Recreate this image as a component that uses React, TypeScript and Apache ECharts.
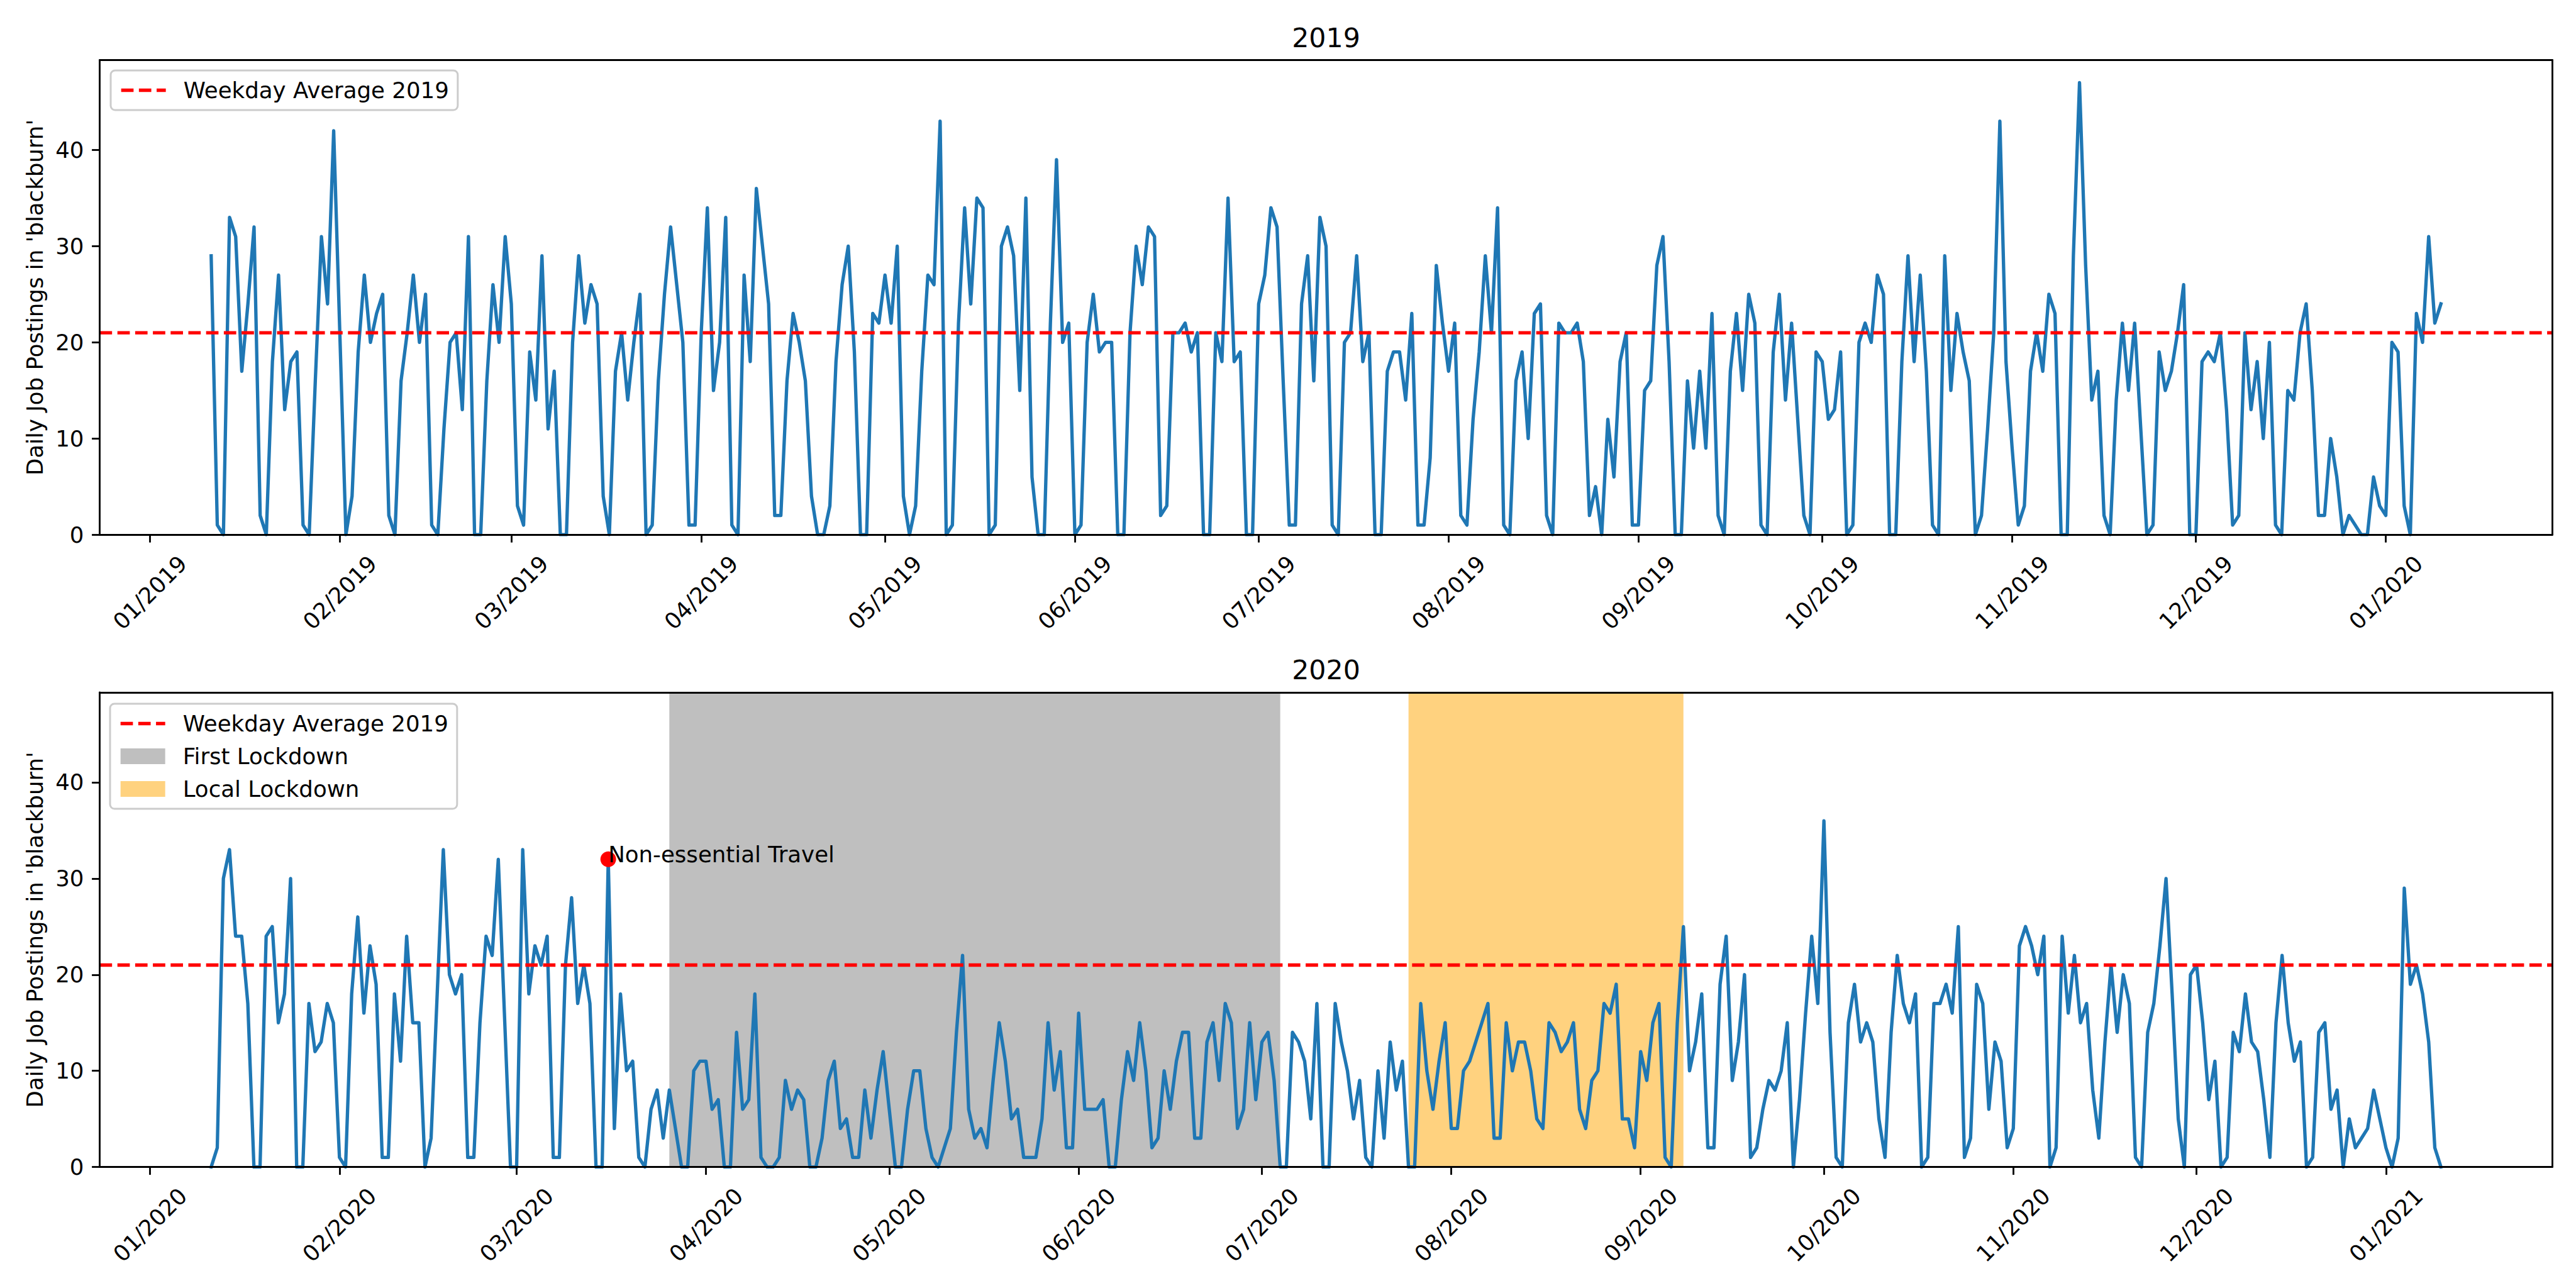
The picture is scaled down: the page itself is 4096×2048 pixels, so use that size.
import React, { useEffect, useRef } from "react";
import * as echarts from "echarts";

const FONT = "DejaVu Sans";
const DAY = 86400000;

// ---------- data ----------
const seriesStart2019 = "2019-01-11";
const seriesStart2020 = "2020-01-11";
const weekdayAverage2019 = 21;
const averageName = "Weekday Average 2019";
const yAxisTitle = "Daily Job Postings in 'blackburn'";

// daily postings, 11 Jan 2019 -> 10 Jan 2020
const p2019Jan = [29, 1, 0, 33, 31, 17, 24, 32, 2, 0, 18, 27, 13, 18, 19, 1, 0, 16, 31, 24, 42];
const p2019Feb = [21, 0, 4, 19, 27, 20, 23, 25, 2, 0, 16, 21, 27, 20, 25, 1, 0, 11, 20, 21, 13, 31, 0, 0, 16, 26, 20, 31];
const p2019Mar = [24, 3, 1, 19, 14, 29, 11, 17, 0, 0, 20, 29, 22, 26, 24, 4, 0, 17, 21, 14, 20, 25, 0, 1, 16, 25, 32, 26, 20, 1, 1];
const p2019Apr = [21, 34, 15, 20, 33, 1, 0, 27, 18, 36, 30, 24, 2, 2, 16, 23, 20, 16, 4, 0, 0, 3, 18, 26, 30, 19, 0, 0, 23, 22];
const p2019May = [27, 22, 30, 4, 0, 3, 17, 27, 26, 43, 0, 1, 22, 34, 24, 35, 34, 0, 1, 30, 32, 29, 15, 35, 6, 0, 0, 22, 39, 20, 22];
const p2019Jun = [0, 1, 20, 25, 19, 20, 20, 0, 0, 21, 30, 26, 32, 31, 2, 3, 21, 21, 22, 19, 21, 0, 0, 21, 18, 35, 18, 19, 0, 0];
const p2019Jul = [24, 27, 34, 32, 16, 1, 1, 24, 29, 16, 33, 30, 1, 0, 20, 21, 29, 18, 21, 0, 0, 17, 19, 19, 14, 23, 1, 1, 8, 28, 22];
const p2019Aug = [17, 22, 2, 1, 12, 19, 29, 21, 34, 1, 0, 16, 19, 10, 23, 24, 2, 0, 22, 21, 21, 22, 18, 2, 5, 0, 12, 6, 18, 21, 1];
const p2019Sep = [1, 15, 16, 28, 31, 18, 0, 0, 16, 9, 17, 9, 23, 2, 0, 17, 23, 15, 25, 22, 1, 0, 19, 25, 14, 22, 12, 2, 0, 19];
const p2019Oct = [18, 12, 13, 19, 0, 1, 20, 22, 20, 27, 25, 0, 0, 18, 29, 18, 27, 17, 1, 0, 29, 15, 23, 19, 16, 0, 2, 11, 21, 43, 18];
const p2019Nov = [9, 1, 3, 17, 21, 17, 25, 23, 0, 0, 29, 47, 28, 14, 17, 2, 0, 14, 22, 15, 22, 11, 0, 1, 19, 15, 17, 21, 26, 0];
const p2019Dec = [0, 18, 19, 18, 21, 13, 1, 2, 21, 13, 18, 10, 20, 1, 0, 15, 14, 21, 24, 15, 2, 2, 10, 6, 0, 2, 1, 0, 0, 6, 3];
const p2020JanTail = [2, 20, 19, 3, 0, 23, 20, 31, 22, 24];

// daily postings, 11 Jan 2020 -> 10 Jan 2021
const p2020Jan = [0, 2, 30, 33, 24, 24, 17, 0, 0, 24, 25, 15, 18, 30, 0, 0, 17, 12, 13, 17, 15];
const p2020Feb = [1, 0, 18, 26, 16, 23, 19, 1, 1, 18, 11, 24, 15, 15, 0, 3, 18, 33, 20, 18, 20, 1, 1, 15, 24, 22, 32, 16, 0];
const p2020Mar = [0, 33, 18, 23, 21, 24, 1, 1, 21, 28, 17, 21, 17, 0, 0, 32, 4, 18, 10, 11, 1, 0, 6, 8, 3, 8, 4, 0, 0, 10, 11];
const p2020Apr = [11, 6, 7, 0, 0, 14, 6, 7, 18, 1, 0, 0, 1, 9, 6, 8, 7, 0, 0, 3, 9, 11, 4, 5, 1, 1, 8, 3, 8, 12];
const p2020May = [6, 0, 0, 6, 10, 10, 4, 1, 0, 2, 4, 14, 22, 6, 3, 4, 2, 9, 15, 11, 5, 6, 1, 1, 1, 5, 15, 8, 12, 2, 2];
const p2020Jun = [16, 6, 6, 6, 7, 0, 0, 7, 12, 9, 15, 10, 2, 3, 10, 6, 11, 14, 14, 3, 3, 13, 15, 9, 17, 15, 4, 6, 15, 7];
const p2020Jul = [13, 14, 9, 0, 0, 14, 13, 11, 5, 17, 0, 0, 17, 13, 10, 5, 9, 1, 0, 10, 3, 13, 8, 11, 0, 0, 17, 10, 6, 11, 15];
const p2020Aug = [4, 4, 10, 11, 13, 15, 17, 3, 3, 15, 10, 13, 13, 10, 5, 4, 15, 14, 12, 13, 15, 6, 4, 9, 10, 17, 16, 19, 5, 5, 2];
const p2020Sep = [12, 9, 15, 17, 1, 0, 15, 25, 10, 13, 18, 2, 2, 19, 24, 9, 13, 20, 1, 2, 6, 9, 8, 10, 15, 0, 7, 16, 24, 17];
const p2020Oct = [36, 14, 1, 0, 15, 19, 13, 15, 13, 5, 1, 14, 22, 17, 15, 18, 0, 1, 17, 17, 19, 16, 25, 1, 3, 19, 17, 6, 13, 11, 2];
const p2020Nov = [4, 23, 25, 23, 20, 24, 0, 2, 24, 16, 22, 15, 17, 8, 3, 13, 21, 14, 20, 17, 1, 0, 14, 17, 23, 30, 18, 5, 0, 20];
const p2020Dec = [21, 15, 7, 11, 0, 1, 14, 12, 18, 13, 12, 7, 1, 15, 22, 15, 11, 13, 0, 1, 14, 15, 6, 8, 0, 5, 2, 3, 4, 8, 5];
const p2021JanTail = [2, 0, 3, 29, 19, 21, 18, 13, 2, 0];

const ticks2019 = ["01/2019", "02/2019", "03/2019", "04/2019", "05/2019", "06/2019", "07/2019", "08/2019", "09/2019", "10/2019", "11/2019", "12/2019", "01/2020"];
const ticks2020 = ["01/2020", "02/2020", "03/2020", "04/2020", "05/2020", "06/2020", "07/2020", "08/2020", "09/2020", "10/2020", "11/2020", "12/2020", "01/2021"];
const yTicks = [0, 10, 20, 30, 40];

const firstLockdown = { name: "First Lockdown", from: "2020-03-26", to: "2020-07-04" };
const localLockdown = { name: "Local Lockdown", from: "2020-07-25", to: "2020-09-08" };
const annotation = { text: "Non-essential Travel", date: "2020-03-16", value: 32 };

// ---------- helpers ----------
const parseDate = (s: string) => {
  const [y, m, d] = s.split("-").map(Number);
  return Date.UTC(y, m - 1, d);
};
const parseMonth = (s: string) => {
  const [m, y] = s.split("/").map(Number);
  return Date.UTC(y, m - 1, 1);
};
const toPoints = (start: string, values: number[]) => {
  const t0 = parseDate(start);
  return values.map((v, i) => [t0 + i * DAY, v]);
};
const extentWithMargin = (start: string, n: number) => {
  const t0 = parseDate(start);
  const span = (n - 1) * DAY;
  return [t0 - 0.05 * span, t0 + span + 0.05 * span];
};

const FS = 35.6;
const LW = 5.33;
const SPINE = 2.84;
const GRID_LEFT = 158.5;
const GRID_W = 3900;
const GRID_H = 754.6;
const GRID_TOPS = [95.6, 1101];
const Y_MAX = 49.35;
const DOT = 25;

export default function App() {
  const ref = useRef<HTMLDivElement>(null);

  useEffect(() => {
    if (!ref.current) return;
    const chart = echarts.init(ref.current, undefined, { renderer: "svg" });

    const postings2019 = [
      ...p2019Jan, ...p2019Feb, ...p2019Mar, ...p2019Apr, ...p2019May, ...p2019Jun,
      ...p2019Jul, ...p2019Aug, ...p2019Sep, ...p2019Oct, ...p2019Nov, ...p2019Dec, ...p2020JanTail,
    ];
    const postings2020 = [
      ...p2020Jan, ...p2020Feb, ...p2020Mar, ...p2020Apr, ...p2020May, ...p2020Jun,
      ...p2020Jul, ...p2020Aug, ...p2020Sep, ...p2020Oct, ...p2020Nov, ...p2020Dec, ...p2021JanTail,
    ];
    const ext2019 = extentWithMargin(seriesStart2019, postings2019.length);
    const ext2020 = extentWithMargin(seriesStart2020, postings2020.length);
    const tickSets = [ticks2019, ticks2020];
    const extents = [ext2019, ext2020];

    const xBottom = (gi: number) => {
      const labels = tickSets[gi];
      const vals = labels.map(parseMonth);
      const lookup = new Map(vals.map((v, i) => [v, labels[i]]));
      return {
        type: "value",
        gridIndex: gi,
        position: "bottom",
        min: extents[gi][0],
        max: extents[gi][1],
        z: 10,
        axisLine: { show: true, onZero: false, lineStyle: { color: "#000", width: SPINE } },
        axisTick: { show: true, length: 12.4, customValues: vals, lineStyle: { color: "#000", width: SPINE } },
        axisLabel: {
          customValues: vals,
          rotate: 45,
          align: "center",
          verticalAlign: "middle",
          margin: 92,
          fontSize: FS,
          fontFamily: FONT,
          color: "#000",
          formatter: (v: number) => lookup.get(v) ?? "",
        },
        splitLine: { show: false },
      };
    };
    const xTop = (gi: number) => ({
      type: "value",
      gridIndex: gi,
      position: "top",
      min: extents[gi][0],
      max: extents[gi][1],
      z: 10,
      axisLine: { show: true, onZero: false, lineStyle: { color: "#000", width: SPINE } },
      axisTick: { show: false },
      axisLabel: { show: false },
      splitLine: { show: false },
    });
    const yLeft = (gi: number) => ({
      type: "value",
      gridIndex: gi,
      position: "left",
      min: 0,
      max: Y_MAX,
      z: 10,
      name: yAxisTitle,
      nameLocation: "middle",
      nameGap: 85,
      nameTextStyle: { fontSize: FS, fontFamily: FONT, color: "#000" },
      axisLine: { show: true, onZero: false, lineStyle: { color: "#000", width: SPINE } },
      axisTick: { show: true, length: 12.4, customValues: yTicks, lineStyle: { color: "#000", width: SPINE } },
      axisLabel: { customValues: yTicks, margin: 25, fontSize: FS, fontFamily: FONT, color: "#000" },
      splitLine: { show: false },
    });
    const yRight = (gi: number) => ({
      type: "value",
      gridIndex: gi,
      position: "right",
      min: 0,
      max: Y_MAX,
      z: 10,
      axisLine: { show: true, onZero: false, lineStyle: { color: "#000", width: SPINE } },
      axisTick: { show: false },
      axisLabel: { show: false },
      splitLine: { show: false },
    });

    const blue = (gi: number, data: number[][]) => ({
      type: "line",
      name: "postings" + gi,
      xAxisIndex: gi,
      yAxisIndex: gi,
      data,
      symbol: "none",
      showSymbol: false,
      z: 3,
      lineStyle: { color: "#1f77b4", width: LW, join: "round", cap: "square" },
      itemStyle: { color: "#1f77b4" },
      emphasis: { disabled: true },
    });
    const avg = (gi: number) => ({
      type: "line",
      name: averageName,
      xAxisIndex: gi,
      yAxisIndex: gi,
      data: [
        [extents[gi][0], weekdayAverage2019],
        [extents[gi][1], weekdayAverage2019],
      ],
      symbol: "none",
      showSymbol: false,
      z: 4,
      lineStyle: { color: "#ff0000", width: LW, type: [19.7, 8.5] },
      itemStyle: { color: "#ff0000" },
      emphasis: { disabled: true },
    });
    const span = (region: { name: string; from: string; to: string }, color: string) => ({
      type: "line",
      name: region.name,
      xAxisIndex: 1,
      yAxisIndex: 1,
      data: [],
      z: 1,
      itemStyle: { color },
      markArea: {
        silent: true,
        itemStyle: { color },
        label: { show: false },
        emphasis: { disabled: true },
        data: [[{ xAxis: parseDate(region.from) }, { xAxis: parseDate(region.to) }]],
      },
    });

    const grey = "rgba(128,128,128,0.5)";
    const orange = "rgba(255,165,0,0.5)";

    const legendBase = {
      orient: "vertical",
      itemWidth: 71,
      itemHeight: 25,
      itemGap: 16,
      padding: [13.5, 14, 13.5, 14],
      backgroundColor: "rgba(255,255,255,0.8)",
      borderColor: "#cccccc",
      borderWidth: 3,
      borderRadius: 7,
      selectedMode: false,
      textStyle: { fontSize: FS, fontFamily: FONT, color: "#000", lineHeight: 36, padding: [0, 0, 0, 23] },
    };
    const avgLegendItem = {
      name: averageName,
      itemStyle: { color: "rgba(0,0,0,0)", opacity: 0, borderWidth: 0 },
      lineStyle: { color: "#ff0000", width: LW, type: [19.7, 8.5] },
    };

    const option = {
      animation: false,
      textStyle: { fontFamily: FONT },
      title: [
        { text: "2019", left: GRID_LEFT + GRID_W / 2, top: 38, textAlign: "center", padding: 0, textStyle: { fontSize: 42.7, fontWeight: "normal", fontFamily: FONT, color: "#000" } },
        { text: "2020", left: GRID_LEFT + GRID_W / 2, top: 1043.6, textAlign: "center", padding: 0, textStyle: { fontSize: 42.7, fontWeight: "normal", fontFamily: FONT, color: "#000" } },
      ],
      grid: GRID_TOPS.map((top) => ({ left: GRID_LEFT, top, width: GRID_W, height: GRID_H, show: false })),
      legend: [
        { ...legendBase, left: 176, top: 112, data: [avgLegendItem] },
        {
          ...legendBase,
          left: 175,
          top: 1119,
          data: [
            avgLegendItem,
            { name: firstLockdown.name, icon: "rect", itemStyle: { color: grey } },
            { name: localLockdown.name, icon: "rect", itemStyle: { color: orange } },
          ],
        },
      ],
      xAxis: [xBottom(0), xBottom(1), xTop(0), xTop(1)],
      yAxis: [yLeft(0), yLeft(1), yRight(0), yRight(1)],
      series: [
        span(firstLockdown, grey),
        span(localLockdown, orange),
        blue(0, toPoints(seriesStart2019, postings2019)),
        avg(0),
        blue(1, toPoints(seriesStart2020, postings2020)),
        avg(1),
        {
          type: "scatter",
          name: "annotation",
          xAxisIndex: 1,
          yAxisIndex: 1,
          data: [[parseDate(annotation.date), annotation.value]],
          symbol: "circle",
          symbolSize: DOT,
          z: 5,
          itemStyle: { color: "#ff0000", opacity: 1 },
          emphasis: { disabled: true },
          label: {
            show: true,
            formatter: annotation.text,
            position: [DOT / 2, DOT / 2 + 10],
            align: "left",
            verticalAlign: "bottom",
            fontSize: FS,
            fontFamily: FONT,
            color: "#000",
            textBorderWidth: 0,
          },
        },
      ],
    };

    chart.setOption(option as any);
    return () => chart.dispose();
  }, []);

  return (
    <div
      ref={ref}
      style={{ position: "fixed", left: 0, top: 0, width: 4096, height: 2048, background: "#fff" }}
    />
  );
}
